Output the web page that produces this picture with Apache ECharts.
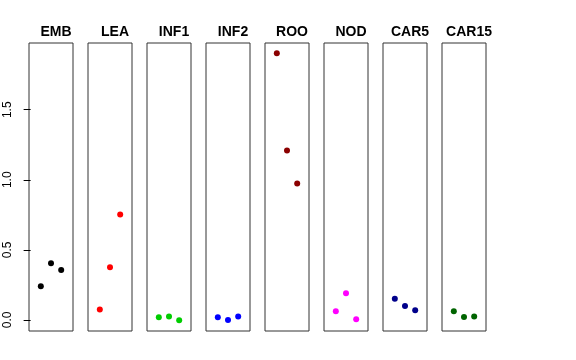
<!DOCTYPE html>
<html><head><meta charset="utf-8">
<script src="https://cdn.jsdelivr.net/npm/echarts@6/dist/echarts.min.js"></script>
<style>html,body{margin:0;padding:0;background:#fff}#c{width:576px;height:360px}</style>
</head><body><div id="c"></div>
<script>
var categories = ['EMB','LEA','INF1','INF2','ROO','NOD','CAR5','CAR15'];
var colors = ['#000000','#FF0000','#00CD00','#0000FF','#8B0000','#FF00FF','#00008B','#006400'];
var xPositions = [1, 2, 3];
var EMB = [0.241, 0.405, 0.357];
var LEA = [0.074, 0.376, 0.752];
var INF1 = [0.019, 0.024, -0.002];
var INF2 = [0.019, 0.000, 0.024];
var ROO = [1.902, 1.209, 0.974];
var NOD = [0.062, 0.190, 0.005];
var CAR5 = [0.152, 0.100, 0.069];
var CAR15 = [0.062, 0.021, 0.024];
var yTicks = [0, 0.5, 1.0, 1.5];
var yTickLabels = ['0.0', '0.5', '1.0', '1.5'];
var values = [EMB, LEA, INF1, INF2, ROO, NOD, CAR5, CAR15];

(function () {
var chart = echarts.init(document.getElementById('c'));
var grids = [], xAxes = [], yAxes = [], series = [], titles = [];
var left0 = 29, w = 44, step = 59, gTop = 43, h = 288;
var ymin = -0.079, ymax = 1.976;
categories.forEach(function (cat, i) {
  grids.push({left: left0 + step * i, top: gTop, width: w, height: h, show: true,
    borderColor: '#333', borderWidth: 1, backgroundColor: 'transparent'});
  xAxes.push({type: 'value', gridIndex: i, min: -0.16, max: 4.16, show: false});
  var ya = {type: 'value', gridIndex: i, min: ymin, max: ymax, splitLine: {show: false}};
  if (i === 0) {
    ya.axisLine = {show: false};
    ya.axisTick = {show: true, length: 7, lineStyle: {color: '#000'}, customValues: yTicks};
    ya.axisLabel = {show: true, rotate: 90, margin: 15, fontSize: 12, color: '#000',
      fontFamily: 'Liberation Sans, Arial, sans-serif', customValues: yTicks,
      formatter: function (v) { var k = yTicks.indexOf(v); return k >= 0 ? yTickLabels[k] : ''; }};
  } else {
    ya.show = false;
  }
  yAxes.push(ya);
  series.push({type: 'scatter', xAxisIndex: i, yAxisIndex: i, symbolSize: 6,
    itemStyle: {color: colors[i], opacity: 1},
    data: xPositions.map(function (x, k) { return [x, values[i][k]]; })});
  titles.push({text: cat, left: left0 + step * i + w / 2, top: 20, textAlign: 'center',
    textStyle: {fontSize: 14, fontWeight: 'bold', color: '#000', fontFamily: 'Liberation Sans, Arial, sans-serif'}});
});
chart.setOption({animation: false, title: titles, grid: grids, xAxis: xAxes, yAxis: yAxes, series: series});
})();
</script></body></html>
